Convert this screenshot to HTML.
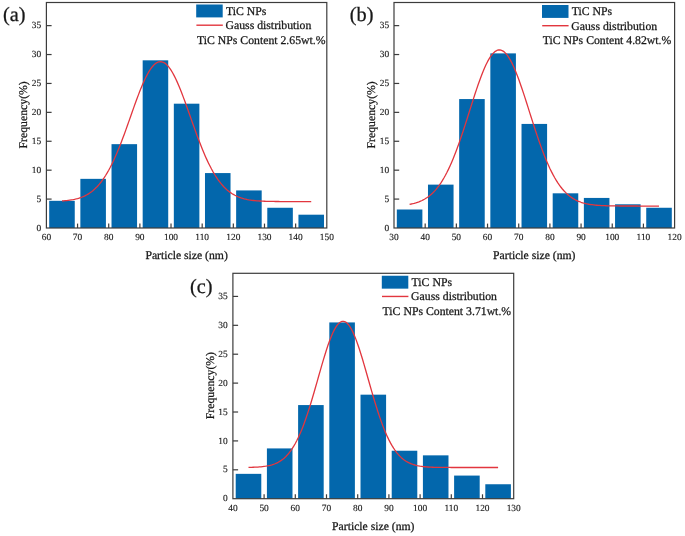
<!DOCTYPE html>
<html><head><meta charset="utf-8"><title>TiC NPs particle size distribution</title>
<style>html,body{margin:0;padding:0;background:#fff;}svg{display:block;will-change:transform;}text{font-family:"Liberation Serif",serif;fill:#181818;stroke:#181818;stroke-width:0.26px;text-rendering:geometricPrecision;}text.t{stroke-width:0.12px;}</style></head><body>
<svg width="685" height="536" viewBox="0 0 685 536">
<rect x="0" y="0" width="685" height="536" fill="#ffffff"/>
<g>
<rect x="49.20" y="200.82" width="25.55" height="27.18" fill="#0367ac"/>
<rect x="80.36" y="178.85" width="25.55" height="49.15" fill="#0367ac"/>
<rect x="111.52" y="144.16" width="25.55" height="83.84" fill="#0367ac"/>
<rect x="142.67" y="60.32" width="25.55" height="167.68" fill="#0367ac"/>
<rect x="173.83" y="103.69" width="25.55" height="124.31" fill="#0367ac"/>
<rect x="204.98" y="173.07" width="25.55" height="54.93" fill="#0367ac"/>
<rect x="236.14" y="190.42" width="25.55" height="37.58" fill="#0367ac"/>
<rect x="267.29" y="207.76" width="25.55" height="20.24" fill="#0367ac"/>
<rect x="298.45" y="214.70" width="25.55" height="13.30" fill="#0367ac"/>
<polyline points="61.98,200.96 63.54,200.84 65.09,200.71 66.65,200.55 68.21,200.37 69.77,200.16 71.32,199.92 72.88,199.65 74.44,199.33 76.00,198.97 77.56,198.56 79.11,198.10 80.67,197.58 82.23,196.99 83.79,196.33 85.34,195.59 86.90,194.76 88.46,193.84 90.02,192.82 91.58,191.69 93.13,190.44 94.69,189.08 96.25,187.58 97.81,185.95 99.36,184.17 100.92,182.24 102.48,180.16 104.04,177.92 105.60,175.51 107.15,172.94 108.71,170.20 110.27,167.29 111.83,164.21 113.38,160.96 114.94,157.56 116.50,153.99 118.06,150.28 119.62,146.43 121.17,142.44 122.73,138.35 124.29,134.15 125.85,129.86 127.40,125.52 128.96,121.12 130.52,116.71 132.08,112.29 133.64,107.90 135.19,103.56 136.75,99.29 138.31,95.13 139.87,91.10 141.42,87.23 142.98,83.54 144.54,80.07 146.10,76.83 147.66,73.85 149.21,71.15 150.77,68.76 152.33,66.69 153.89,64.96 155.44,63.58 157.00,62.57 158.56,61.92 160.12,61.66 161.68,61.77 163.23,62.26 164.79,63.13 166.35,64.36 167.91,65.96 169.46,67.89 171.02,70.16 172.58,72.73 174.14,75.60 175.70,78.74 177.25,82.12 178.81,85.73 180.37,89.53 181.93,93.50 183.48,97.61 185.04,101.84 186.60,106.16 188.16,110.53 189.72,114.94 191.27,119.36 192.83,123.76 194.39,128.13 195.95,132.44 197.50,136.68 199.06,140.82 200.62,144.85 202.18,148.75 203.74,152.52 205.29,156.15 206.85,159.62 208.41,162.93 209.97,166.08 211.52,169.05 213.08,171.86 214.64,174.50 216.20,176.98 217.76,179.28 219.31,181.43 220.87,183.42 222.43,185.25 223.99,186.94 225.54,188.49 227.10,189.91 228.66,191.20 230.22,192.38 231.78,193.44 233.33,194.40 234.89,195.27 236.45,196.04 238.01,196.73 239.56,197.35 241.12,197.90 242.68,198.39 244.24,198.82 245.80,199.19 247.35,199.53 248.91,199.82 250.47,200.07 252.03,200.29 253.58,200.48 255.14,200.65 256.70,200.79 258.26,200.91 259.82,201.02 261.37,201.11 262.93,201.18 264.49,201.25 266.05,201.30 267.60,201.35 269.16,201.39 270.72,201.42 272.28,201.45 273.84,201.47 275.39,201.49 276.95,201.51 278.51,201.52 280.07,201.53 281.62,201.54 283.18,201.55 284.74,201.55 286.30,201.56 287.86,201.56 289.41,201.56 290.97,201.57 292.53,201.57 294.09,201.57 295.64,201.57 297.20,201.57 298.76,201.57 300.32,201.57 301.88,201.57 303.43,201.57 304.99,201.57 306.55,201.58 308.11,201.58 309.66,201.58 311.22,201.58" fill="none" stroke="#e2363e" stroke-width="1.3" stroke-linejoin="round" stroke-linecap="butt"/>
<rect x="46.40" y="2.50" width="280.40" height="225.50" fill="none" stroke="#3c3c3c" stroke-width="1.2"/>
<text x="46.40" y="239.80" font-size="9.40" text-anchor="middle" class="t">60</text>
<line x1="77.56" y1="228.00" x2="77.56" y2="223.60" stroke="#3c3c3c" stroke-width="1.2"/>
<text x="77.56" y="239.80" font-size="9.40" text-anchor="middle" class="t">70</text>
<line x1="108.71" y1="228.00" x2="108.71" y2="223.60" stroke="#3c3c3c" stroke-width="1.2"/>
<text x="108.71" y="239.80" font-size="9.40" text-anchor="middle" class="t">80</text>
<line x1="139.87" y1="228.00" x2="139.87" y2="223.60" stroke="#3c3c3c" stroke-width="1.2"/>
<text x="139.87" y="239.80" font-size="9.40" text-anchor="middle" class="t">90</text>
<line x1="171.02" y1="228.00" x2="171.02" y2="223.60" stroke="#3c3c3c" stroke-width="1.2"/>
<text x="171.02" y="239.80" font-size="9.40" text-anchor="middle" class="t">100</text>
<line x1="202.18" y1="228.00" x2="202.18" y2="223.60" stroke="#3c3c3c" stroke-width="1.2"/>
<text x="202.18" y="239.80" font-size="9.40" text-anchor="middle" class="t">110</text>
<line x1="233.33" y1="228.00" x2="233.33" y2="223.60" stroke="#3c3c3c" stroke-width="1.2"/>
<text x="233.33" y="239.80" font-size="9.40" text-anchor="middle" class="t">120</text>
<line x1="264.49" y1="228.00" x2="264.49" y2="223.60" stroke="#3c3c3c" stroke-width="1.2"/>
<text x="264.49" y="239.80" font-size="9.40" text-anchor="middle" class="t">130</text>
<line x1="295.64" y1="228.00" x2="295.64" y2="223.60" stroke="#3c3c3c" stroke-width="1.2"/>
<text x="295.64" y="239.80" font-size="9.40" text-anchor="middle" class="t">140</text>
<text x="326.80" y="239.80" font-size="9.40" text-anchor="middle" class="t">150</text>
<text x="41.10" y="230.85" font-size="9.40" text-anchor="end" class="t">0</text>
<line x1="46.40" y1="199.09" x2="51.60" y2="199.09" stroke="#3c3c3c" stroke-width="1.2"/>
<text x="41.10" y="201.94" font-size="9.40" text-anchor="end" class="t">5</text>
<line x1="46.40" y1="170.18" x2="51.60" y2="170.18" stroke="#3c3c3c" stroke-width="1.2"/>
<text x="41.10" y="173.03" font-size="9.40" text-anchor="end" class="t">10</text>
<line x1="46.40" y1="141.27" x2="51.60" y2="141.27" stroke="#3c3c3c" stroke-width="1.2"/>
<text x="41.10" y="144.12" font-size="9.40" text-anchor="end" class="t">15</text>
<line x1="46.40" y1="112.36" x2="51.60" y2="112.36" stroke="#3c3c3c" stroke-width="1.2"/>
<text x="41.10" y="115.21" font-size="9.40" text-anchor="end" class="t">20</text>
<line x1="46.40" y1="83.45" x2="51.60" y2="83.45" stroke="#3c3c3c" stroke-width="1.2"/>
<text x="41.10" y="86.30" font-size="9.40" text-anchor="end" class="t">25</text>
<line x1="46.40" y1="54.54" x2="51.60" y2="54.54" stroke="#3c3c3c" stroke-width="1.2"/>
<text x="41.10" y="57.39" font-size="9.40" text-anchor="end" class="t">30</text>
<line x1="46.40" y1="25.63" x2="51.60" y2="25.63" stroke="#3c3c3c" stroke-width="1.2"/>
<text x="41.10" y="28.48" font-size="9.40" text-anchor="end" class="t">35</text>
<text x="186.60" y="259.30" font-size="11.70" text-anchor="middle">Particle size (nm)</text>
<text transform="translate(27.10,114.85) rotate(-90)" font-size="11.75" text-anchor="middle">Frequency(%)</text>
<rect x="196.20" y="4.50" width="26.5" height="12.9" fill="#0367ac"/>
<text x="226.00" y="14.70" font-size="11.75">TiC NPs</text>
<line x1="196.40" y1="25.20" x2="222.80" y2="25.20" stroke="#e2363e" stroke-width="1.4"/>
<text x="225.50" y="29.10" font-size="11.75">Gauss distribution</text>
<text x="197.00" y="43.80" font-size="11.75">TiC NPs Content 2.65wt.%</text>
<text x="3.00" y="21.30" font-size="20.30">(a)</text>
</g>
<g>
<rect x="396.81" y="209.50" width="25.57" height="18.50" fill="#0367ac"/>
<rect x="427.98" y="184.63" width="25.57" height="43.37" fill="#0367ac"/>
<rect x="459.16" y="99.06" width="25.57" height="128.94" fill="#0367ac"/>
<rect x="490.34" y="53.38" width="25.57" height="174.62" fill="#0367ac"/>
<rect x="521.52" y="123.92" width="25.57" height="104.08" fill="#0367ac"/>
<rect x="552.69" y="193.31" width="25.57" height="34.69" fill="#0367ac"/>
<rect x="583.87" y="197.93" width="25.57" height="30.07" fill="#0367ac"/>
<rect x="615.05" y="204.29" width="25.57" height="23.71" fill="#0367ac"/>
<rect x="646.23" y="207.76" width="25.57" height="20.24" fill="#0367ac"/>
<polyline points="409.59,204.29 411.15,204.00 412.71,203.67 414.27,203.29 415.82,202.86 417.38,202.37 418.94,201.81 420.50,201.18 422.06,200.48 423.62,199.69 425.18,198.80 426.74,197.82 428.30,196.73 429.85,195.52 431.41,194.18 432.97,192.71 434.53,191.10 436.09,189.34 437.65,187.42 439.21,185.34 440.77,183.08 442.33,180.65 443.88,178.04 445.44,175.25 447.00,172.27 448.56,169.09 450.12,165.73 451.68,162.19 453.24,158.46 454.80,154.55 456.36,150.47 457.91,146.23 459.47,141.85 461.03,137.33 462.59,132.68 464.15,127.94 465.71,123.12 467.27,118.23 468.83,113.31 470.39,108.38 471.94,103.47 473.50,98.60 475.06,93.80 476.62,89.11 478.18,84.55 479.74,80.16 481.30,75.96 482.86,71.98 484.42,68.26 485.97,64.81 487.53,61.68 489.09,58.87 490.65,56.41 492.21,54.33 493.77,52.63 495.33,51.34 496.89,50.45 498.45,49.99 500.00,49.95 501.56,50.33 503.12,51.13 504.68,52.34 506.24,53.96 507.80,55.97 509.36,58.35 510.92,61.09 512.48,64.16 514.03,67.54 515.59,71.21 517.15,75.14 518.71,79.30 520.27,83.66 521.83,88.19 523.39,92.85 524.95,97.63 526.51,102.49 528.06,107.40 529.62,112.33 531.18,117.25 532.74,122.14 534.30,126.98 535.86,131.74 537.42,136.41 538.98,140.95 540.54,145.37 542.09,149.64 543.65,153.75 545.21,157.69 546.77,161.46 548.33,165.04 549.89,168.44 551.45,171.65 553.01,174.67 554.57,177.50 556.12,180.15 557.68,182.61 559.24,184.90 560.80,187.02 562.36,188.97 563.92,190.76 565.48,192.40 567.04,193.90 568.60,195.26 570.15,196.49 571.71,197.61 573.27,198.62 574.83,199.52 576.39,200.33 577.95,201.05 579.51,201.69 581.07,202.26 582.63,202.76 584.18,203.21 585.74,203.60 587.30,203.94 588.86,204.24 590.42,204.50 591.98,204.72 593.54,204.92 595.10,205.09 596.66,205.23 598.21,205.36 599.77,205.47 601.33,205.56 602.89,205.63 604.45,205.70 606.01,205.75 607.57,205.80 609.13,205.84 610.69,205.87 612.24,205.90 613.80,205.92 615.36,205.94 616.92,205.96 618.48,205.97 620.04,205.98 621.60,205.99 623.16,206.00 624.72,206.00 626.27,206.01 627.83,206.01 629.39,206.02 630.95,206.02 632.51,206.02 634.07,206.02 635.63,206.02 637.19,206.02 638.75,206.03 640.30,206.03 641.86,206.03 643.42,206.03 644.98,206.03 646.54,206.03 648.10,206.03 649.66,206.03 651.22,206.03 652.78,206.03 654.33,206.03 655.89,206.03 657.45,206.03 659.01,206.03" fill="none" stroke="#e2363e" stroke-width="1.3" stroke-linejoin="round" stroke-linecap="butt"/>
<rect x="394.00" y="2.50" width="280.60" height="225.50" fill="none" stroke="#3c3c3c" stroke-width="1.2"/>
<text x="394.00" y="239.80" font-size="9.40" text-anchor="middle" class="t">30</text>
<line x1="425.18" y1="228.00" x2="425.18" y2="223.60" stroke="#3c3c3c" stroke-width="1.2"/>
<text x="425.18" y="239.80" font-size="9.40" text-anchor="middle" class="t">40</text>
<line x1="456.36" y1="228.00" x2="456.36" y2="223.60" stroke="#3c3c3c" stroke-width="1.2"/>
<text x="456.36" y="239.80" font-size="9.40" text-anchor="middle" class="t">50</text>
<line x1="487.53" y1="228.00" x2="487.53" y2="223.60" stroke="#3c3c3c" stroke-width="1.2"/>
<text x="487.53" y="239.80" font-size="9.40" text-anchor="middle" class="t">60</text>
<line x1="518.71" y1="228.00" x2="518.71" y2="223.60" stroke="#3c3c3c" stroke-width="1.2"/>
<text x="518.71" y="239.80" font-size="9.40" text-anchor="middle" class="t">70</text>
<line x1="549.89" y1="228.00" x2="549.89" y2="223.60" stroke="#3c3c3c" stroke-width="1.2"/>
<text x="549.89" y="239.80" font-size="9.40" text-anchor="middle" class="t">80</text>
<line x1="581.07" y1="228.00" x2="581.07" y2="223.60" stroke="#3c3c3c" stroke-width="1.2"/>
<text x="581.07" y="239.80" font-size="9.40" text-anchor="middle" class="t">90</text>
<line x1="612.24" y1="228.00" x2="612.24" y2="223.60" stroke="#3c3c3c" stroke-width="1.2"/>
<text x="612.24" y="239.80" font-size="9.40" text-anchor="middle" class="t">100</text>
<line x1="643.42" y1="228.00" x2="643.42" y2="223.60" stroke="#3c3c3c" stroke-width="1.2"/>
<text x="643.42" y="239.80" font-size="9.40" text-anchor="middle" class="t">110</text>
<text x="674.60" y="239.80" font-size="9.40" text-anchor="middle" class="t">120</text>
<text x="389.20" y="230.60" font-size="9.40" text-anchor="end" class="t">0</text>
<line x1="394.00" y1="199.09" x2="399.20" y2="199.09" stroke="#3c3c3c" stroke-width="1.2"/>
<text x="389.20" y="201.69" font-size="9.40" text-anchor="end" class="t">5</text>
<line x1="394.00" y1="170.18" x2="399.20" y2="170.18" stroke="#3c3c3c" stroke-width="1.2"/>
<text x="389.20" y="172.78" font-size="9.40" text-anchor="end" class="t">10</text>
<line x1="394.00" y1="141.27" x2="399.20" y2="141.27" stroke="#3c3c3c" stroke-width="1.2"/>
<text x="389.20" y="143.87" font-size="9.40" text-anchor="end" class="t">15</text>
<line x1="394.00" y1="112.36" x2="399.20" y2="112.36" stroke="#3c3c3c" stroke-width="1.2"/>
<text x="389.20" y="114.96" font-size="9.40" text-anchor="end" class="t">20</text>
<line x1="394.00" y1="83.45" x2="399.20" y2="83.45" stroke="#3c3c3c" stroke-width="1.2"/>
<text x="389.20" y="86.05" font-size="9.40" text-anchor="end" class="t">25</text>
<line x1="394.00" y1="54.54" x2="399.20" y2="54.54" stroke="#3c3c3c" stroke-width="1.2"/>
<text x="389.20" y="57.14" font-size="9.40" text-anchor="end" class="t">30</text>
<line x1="394.00" y1="25.63" x2="399.20" y2="25.63" stroke="#3c3c3c" stroke-width="1.2"/>
<text x="389.20" y="28.23" font-size="9.40" text-anchor="end" class="t">35</text>
<text x="534.30" y="259.30" font-size="11.70" text-anchor="middle">Particle size (nm)</text>
<text transform="translate(374.70,114.85) rotate(-90)" font-size="11.75" text-anchor="middle">Frequency(%)</text>
<rect x="542.00" y="5.00" width="26.5" height="12.9" fill="#0367ac"/>
<text x="571.80" y="15.20" font-size="11.75">TiC NPs</text>
<line x1="542.20" y1="25.70" x2="568.60" y2="25.70" stroke="#e2363e" stroke-width="1.4"/>
<text x="571.30" y="29.60" font-size="11.75">Gauss distribution</text>
<text x="542.80" y="44.30" font-size="11.75">TiC NPs Content 4.82wt.%</text>
<text x="349.80" y="21.00" font-size="20.30">(b)</text>
</g>
<g>
<rect x="235.71" y="473.85" width="25.58" height="24.85" fill="#0367ac"/>
<rect x="266.91" y="448.42" width="25.58" height="50.28" fill="#0367ac"/>
<rect x="298.11" y="405.07" width="25.58" height="93.63" fill="#0367ac"/>
<rect x="329.31" y="322.43" width="25.58" height="176.27" fill="#0367ac"/>
<rect x="360.51" y="394.67" width="25.58" height="104.03" fill="#0367ac"/>
<rect x="391.71" y="450.73" width="25.58" height="47.97" fill="#0367ac"/>
<rect x="422.91" y="455.35" width="25.58" height="43.35" fill="#0367ac"/>
<rect x="454.11" y="475.58" width="25.58" height="23.12" fill="#0367ac"/>
<rect x="485.31" y="484.25" width="25.58" height="14.45" fill="#0367ac"/>
<polyline points="248.50,467.37 250.06,467.34 251.62,467.30 253.18,467.25 254.74,467.19 256.30,467.11 257.86,467.03 259.42,466.92 260.98,466.79 262.54,466.63 264.10,466.44 265.66,466.22 267.22,465.95 268.78,465.64 270.34,465.27 271.90,464.84 273.46,464.34 275.02,463.75 276.58,463.08 278.14,462.30 279.70,461.41 281.26,460.39 282.82,459.23 284.38,457.93 285.94,456.45 287.50,454.81 289.06,452.97 290.62,450.92 292.18,448.67 293.74,446.19 295.30,443.47 296.86,440.51 298.42,437.31 299.98,433.85 301.54,430.14 303.10,426.19 304.66,421.99 306.22,417.55 307.78,412.90 309.34,408.04 310.90,403.00 312.46,397.80 314.02,392.47 315.58,387.04 317.14,381.56 318.70,376.05 320.26,370.56 321.82,365.15 323.38,359.84 324.94,354.70 326.50,349.76 328.06,345.08 329.62,340.71 331.18,336.69 332.74,333.05 334.30,329.85 335.86,327.12 337.42,324.88 338.98,323.16 340.54,321.99 342.10,321.37 343.66,321.31 345.22,321.82 346.78,322.89 348.34,324.49 349.90,326.63 351.46,329.27 353.02,332.38 354.58,335.93 356.14,339.88 357.70,344.18 359.26,348.80 360.82,353.69 362.38,358.80 363.94,364.07 365.50,369.47 367.06,374.95 368.62,380.46 370.18,385.95 371.74,391.39 373.30,396.74 374.86,401.97 376.42,407.05 377.98,411.94 379.54,416.64 381.10,421.12 382.66,425.37 384.22,429.37 385.78,433.13 387.34,436.64 388.90,439.89 390.46,442.90 392.02,445.66 393.58,448.19 395.14,450.49 396.70,452.57 398.26,454.45 399.82,456.14 401.38,457.65 402.94,458.98 404.50,460.17 406.06,461.21 407.62,462.13 409.18,462.93 410.74,463.63 412.30,464.23 413.86,464.75 415.42,465.19 416.98,465.57 418.54,465.90 420.10,466.17 421.66,466.40 423.22,466.60 424.78,466.76 426.34,466.89 427.90,467.01 429.46,467.10 431.02,467.17 432.58,467.24 434.14,467.29 435.70,467.33 437.26,467.36 438.82,467.39 440.38,467.41 441.94,467.43 443.50,467.44 445.06,467.45 446.62,467.46 448.18,467.47 449.74,467.47 451.30,467.48 452.86,467.48 454.42,467.48 455.98,467.48 457.54,467.49 459.10,467.49 460.66,467.49 462.22,467.49 463.78,467.49 465.34,467.49 466.90,467.49 468.46,467.49 470.02,467.49 471.58,467.49 473.14,467.49 474.70,467.49 476.26,467.49 477.82,467.49 479.38,467.49 480.94,467.49 482.50,467.49 484.06,467.49 485.62,467.49 487.18,467.49 488.74,467.49 490.30,467.49 491.86,467.49 493.42,467.49 494.98,467.49 496.54,467.49 498.10,467.49" fill="none" stroke="#e2363e" stroke-width="1.3" stroke-linejoin="round" stroke-linecap="butt"/>
<rect x="232.90" y="273.30" width="280.80" height="225.40" fill="none" stroke="#3c3c3c" stroke-width="1.2"/>
<text x="232.90" y="510.95" font-size="9.40" text-anchor="middle" class="t">40</text>
<line x1="264.10" y1="498.70" x2="264.10" y2="494.30" stroke="#3c3c3c" stroke-width="1.2"/>
<text x="264.10" y="510.95" font-size="9.40" text-anchor="middle" class="t">50</text>
<line x1="295.30" y1="498.70" x2="295.30" y2="494.30" stroke="#3c3c3c" stroke-width="1.2"/>
<text x="295.30" y="510.95" font-size="9.40" text-anchor="middle" class="t">60</text>
<line x1="326.50" y1="498.70" x2="326.50" y2="494.30" stroke="#3c3c3c" stroke-width="1.2"/>
<text x="326.50" y="510.95" font-size="9.40" text-anchor="middle" class="t">70</text>
<line x1="357.70" y1="498.70" x2="357.70" y2="494.30" stroke="#3c3c3c" stroke-width="1.2"/>
<text x="357.70" y="510.95" font-size="9.40" text-anchor="middle" class="t">80</text>
<line x1="388.90" y1="498.70" x2="388.90" y2="494.30" stroke="#3c3c3c" stroke-width="1.2"/>
<text x="388.90" y="510.95" font-size="9.40" text-anchor="middle" class="t">90</text>
<line x1="420.10" y1="498.70" x2="420.10" y2="494.30" stroke="#3c3c3c" stroke-width="1.2"/>
<text x="420.10" y="510.95" font-size="9.40" text-anchor="middle" class="t">100</text>
<line x1="451.30" y1="498.70" x2="451.30" y2="494.30" stroke="#3c3c3c" stroke-width="1.2"/>
<text x="451.30" y="510.95" font-size="9.40" text-anchor="middle" class="t">110</text>
<line x1="482.50" y1="498.70" x2="482.50" y2="494.30" stroke="#3c3c3c" stroke-width="1.2"/>
<text x="482.50" y="510.95" font-size="9.40" text-anchor="middle" class="t">120</text>
<text x="513.70" y="510.95" font-size="9.40" text-anchor="middle" class="t">130</text>
<text x="227.60" y="501.30" font-size="9.40" text-anchor="end" class="t">0</text>
<line x1="232.90" y1="469.80" x2="238.10" y2="469.80" stroke="#3c3c3c" stroke-width="1.2"/>
<text x="227.60" y="472.40" font-size="9.40" text-anchor="end" class="t">5</text>
<line x1="232.90" y1="440.91" x2="238.10" y2="440.91" stroke="#3c3c3c" stroke-width="1.2"/>
<text x="227.60" y="443.51" font-size="9.40" text-anchor="end" class="t">10</text>
<line x1="232.90" y1="412.01" x2="238.10" y2="412.01" stroke="#3c3c3c" stroke-width="1.2"/>
<text x="227.60" y="414.61" font-size="9.40" text-anchor="end" class="t">15</text>
<line x1="232.90" y1="383.11" x2="238.10" y2="383.11" stroke="#3c3c3c" stroke-width="1.2"/>
<text x="227.60" y="385.71" font-size="9.40" text-anchor="end" class="t">20</text>
<line x1="232.90" y1="354.21" x2="238.10" y2="354.21" stroke="#3c3c3c" stroke-width="1.2"/>
<text x="227.60" y="356.81" font-size="9.40" text-anchor="end" class="t">25</text>
<line x1="232.90" y1="325.32" x2="238.10" y2="325.32" stroke="#3c3c3c" stroke-width="1.2"/>
<text x="227.60" y="327.92" font-size="9.40" text-anchor="end" class="t">30</text>
<line x1="232.90" y1="296.42" x2="238.10" y2="296.42" stroke="#3c3c3c" stroke-width="1.2"/>
<text x="227.60" y="299.02" font-size="9.40" text-anchor="end" class="t">35</text>
<text x="373.30" y="530.00" font-size="11.70" text-anchor="middle">Particle size (nm)</text>
<text transform="translate(213.60,385.60) rotate(-90)" font-size="11.75" text-anchor="middle">Frequency(%)</text>
<rect x="381.80" y="275.75" width="26.5" height="12.9" fill="#0367ac"/>
<text x="411.60" y="285.95" font-size="11.75">TiC NPs</text>
<line x1="382.00" y1="296.45" x2="408.40" y2="296.45" stroke="#e2363e" stroke-width="1.4"/>
<text x="411.10" y="300.35" font-size="11.75">Gauss distribution</text>
<text x="382.60" y="315.05" font-size="11.75">TiC NPs Content 3.71wt.%</text>
<text x="189.90" y="293.20" font-size="20.30">(c)</text>
</g>
</svg></body></html>
